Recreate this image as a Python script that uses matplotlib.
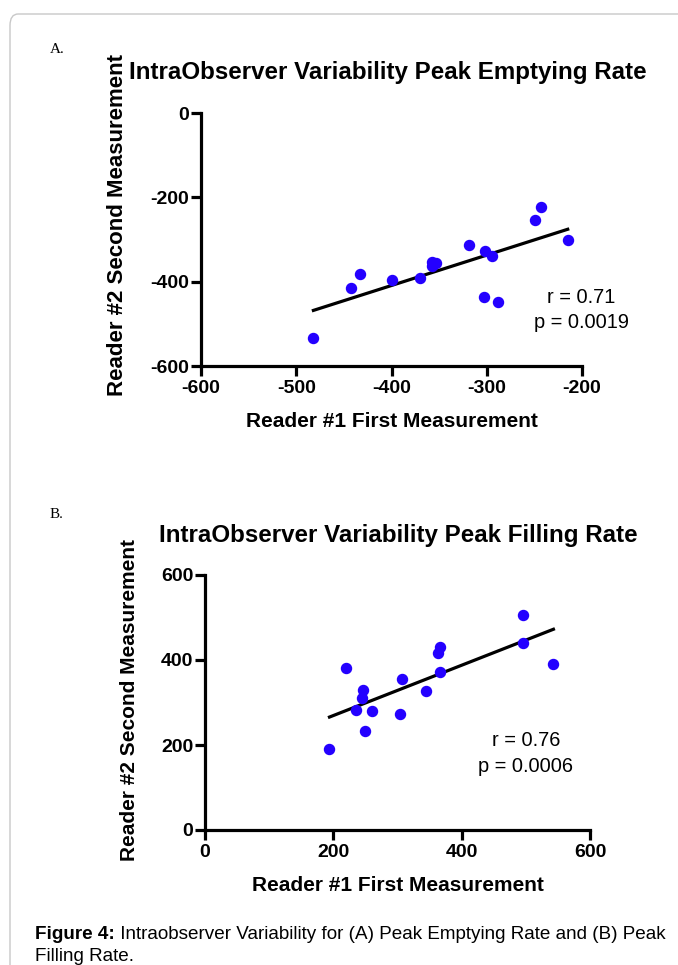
"""Figure 4: intraobserver variability scatter plots (A, B)"""
import numpy as np
import matplotlib
matplotlib.use('Agg')
import matplotlib.pyplot as plt
from matplotlib.patches import FancyBboxPatch

plt.rcParams['font.family'] = ['Liberation Sans', 'DejaVu Sans']
plt.rcParams['axes.unicode_minus'] = False

# panel A: peak emptying rate
emp_first = [-482, -442, -433, -399, -370, -358, -353, -357, -319, -302, -295,
             -303, -288, -249, -243, -215]
emp_second = [-533, -415, -383, -396, -391, -353, -356, -364, -312, -327, -339,
              -437, -448, -254, -222, -300]
emp_stats = ['r = 0.71', 'p = 0.0019']

# panel B: peak filling rate
fill_first = [194, 220, 247, 245, 235, 261, 249, 307, 304, 345, 363, 367, 366,
              495, 495, 543]
fill_second = [190, 381, 329, 311, 282, 279, 234, 355, 272, 326, 417, 430, 372,
               506, 439, 391]
fill_stats = ['r = 0.76', 'p = 0.0006']

W, H = 678, 965
fig = plt.figure(figsize=(W / 100, H / 100), dpi=100)


def px_axes(x0, y0, x1, y1):
    return fig.add_axes([x0 / W, 1 - y1 / H, (x1 - x0) / W, (y1 - y0) / H])


def px_text(px, py, s, **kw):
    return fig.text(px / W, 1 - py / H, s, **kw)


def panel(ax, x, y, xlim, ylim, ticks_x, ticks_y, title, title_px, stats,
          stats_px, xlab_pos, ylab_pos, ylab_size):
    ax.scatter(x, y, s=52, color='#2400ff', zorder=3, clip_on=False)
    k, b = np.polyfit(x, y, 1)
    xs = np.array([min(x), max(x)])
    ax.plot(xs, k * xs + b, color='black', lw=2.3, zorder=2)
    ax.set_xlim(xlim)
    ax.set_ylim(ylim)
    ax.set_xticks(ticks_x)
    ax.set_yticks(ticks_y)
    for s in ('top', 'right'):
        ax.spines[s].set_visible(False)
    for s in ('left', 'bottom'):
        ax.spines[s].set_linewidth(2.3)
    ax.tick_params(direction='out', length=7, width=2.3, pad=1.5,
                   labelsize=14)
    ax.tick_params(axis='x', pad=3)
    for lab in ax.get_xticklabels() + ax.get_yticklabels():
        lab.set_fontweight('bold')
    ax.set_xlabel('Reader #1 First Measurement', fontsize=15,
                  fontweight='bold', va='center')
    ax.set_ylabel('Reader #2 Second Measurement', fontsize=ylab_size,
                  fontweight='bold', va='center')
    ax.xaxis.set_label_coords(*xlab_pos)
    ax.yaxis.set_label_coords(*ylab_pos)
    px_text(*title_px, title, fontsize=17.4, fontweight='bold', ha='center',
            va='baseline')
    for line, (px, py) in zip(stats, stats_px):
        px_text(px, py, line, ha='center', va='center', fontsize=14.4)


axA = px_axes(201, 113, 582, 366)
panel(axA, emp_first, emp_second, (-600, -200), (-600, 0),
      [-600, -500, -400, -300, -200], [-600, -400, -200, 0],
      'IntraObserver Variability Peak Emptying Rate', (388, 79), emp_stats,
      [(581, 297), (581, 322)], (0.501, -0.22), (-0.22, 0.557), 16)

axB = px_axes(205, 575, 590, 830)
panel(axB, fill_first, fill_second, (0, 600), (0, 600),
      [0, 200, 400, 600], [0, 200, 400, 600],
      'IntraObserver Variability Peak Filling Rate', (398, 542), fill_stats,
      [(526, 741), (526, 766)], (0.50, -0.218), (-0.196, 0.51), 15)

px_text(50, 53, 'A.', family='Liberation Serif', fontsize=11, va='baseline')
px_text(50, 518, 'B.', family='Liberation Serif', fontsize=11, va='baseline')

cap = px_text(35, 939, 'Figure 4:', fontsize=13.6, fontweight='bold',
              va='baseline')
fig.add_artist(plt.Annotation(
    ' Intraobserver Variability for (A) Peak Emptying Rate and (B) Peak',
    xy=(1, 0), xycoords=cap, va='bottom', fontsize=13.6))
px_text(35, 961, 'Filling Rate.', fontsize=13.6, va='baseline')

frame = FancyBboxPatch((10 / W, -0.05), 1.0, 1 - 14 / H + 0.05,
                       boxstyle='round,pad=0,rounding_size=0.012',
                       transform=fig.transFigure, fill=False,
                       edgecolor='#c8c8c8', lw=1.0)
fig.add_artist(frame)

fig.savefig('out.png', dpi=100)
